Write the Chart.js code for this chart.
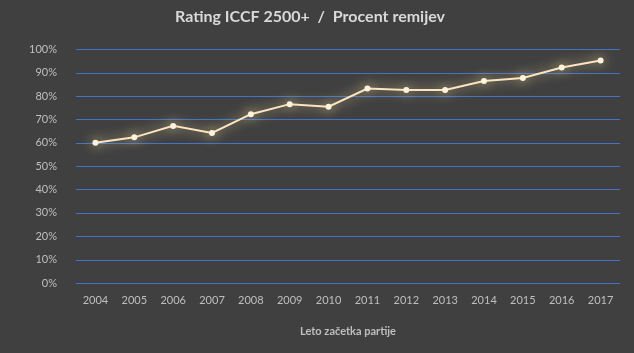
<!DOCTYPE html>
<html>
<head>
<meta charset="utf-8">
<script src="https://cdn.jsdelivr.net/npm/chart.js@4"></script>
<style>
  html, body { margin: 0; padding: 0; background: #404040; }
  #wrap { width: 634px; height: 353px; }
</style>
</head>
<body>
<div id="wrap"><canvas id="chartRemiji"></canvas></div>
<script>
// Podatki grafa
const leta = ['2004', '2005', '2006', '2007', '2008', '2009', '2010', '2011', '2012', '2013', '2014', '2015', '2016', '2017'];
const procentRemijev = [0.600, 0.623, 0.672, 0.642, 0.722, 0.765, 0.754, 0.832, 0.826, 0.826, 0.864, 0.877, 0.922, 0.952];
const yTicks = [0, 0.1, 0.2, 0.3, 0.4, 0.5, 0.6, 0.7, 0.8, 0.9, 1.0];

// Ostre modre mrežne črte (poravnane na piksel)
const gridPlugin = {
    id: 'ostraMreza',
    beforeDatasetsDraw(chart) {
        const { ctx, chartArea, scales } = chart;
        ctx.save();
        ctx.strokeStyle = '#4472C4';
        ctx.lineWidth = 1;
        scales.y.ticks.forEach(t => {
            const y = Math.round(scales.y.getPixelForValue(t.value)) + 0.5;
            ctx.beginPath();
            ctx.moveTo(chartArea.left, y);
            ctx.lineTo(chartArea.right, y);
            ctx.stroke();
        });
        ctx.restore();
    }
};

// Sij okoli črte (kot v Excelu)
const glowPlugin = {
    id: 'glow',
    beforeDatasetDraw(chart) {
        const ctx = chart.ctx;
        ctx.save();
        ctx.shadowColor = 'rgba(255, 232, 160, 0.85)';
        ctx.shadowBlur = 12;
    },
    afterDatasetDraw(chart) {
        chart.ctx.restore();
    }
};

const barvaBesedila = '#BFBFBF';

new Chart(document.getElementById('chartRemiji'), {
    type: 'line',
    data: {
        labels: leta,
        datasets: [{
            label: 'Procent remijev',
            data: procentRemijev,
            borderColor: '#FCE4C0',
            borderWidth: 2,
            pointRadius: 3,
            pointBackgroundColor: '#FFF3DE',
            pointBorderColor: '#FFF3DE',
            pointBorderWidth: 0,
            tension: 0
        }]
    },
    options: {
        responsive: true,
        maintainAspectRatio: false,
        animation: false,
        layout: { padding: { left: 0, right: 14, top: 0, bottom: 0 } },
        plugins: {
            legend: { display: false },
            tooltip: { enabled: false },
            title: {
                display: true,
                text: 'Rating ICCF 2500+  /  Procent remijev',
                color: '#D9D9D9',
                font: { family: 'Lato', size: 16, weight: 'bold' },
                padding: { top: 7, bottom: 23 }
            }
        },
        scales: {
            x: {
                offset: true,
                grid: { display: false },
                border: { display: false },
                ticks: {
                    color: barvaBesedila,
                    font: { family: 'Lato', size: 11 },
                    padding: 3,
                    maxRotation: 0
                },
                title: {
                    display: true,
                    text: 'Leto začetka partije',
                    color: barvaBesedila,
                    font: { family: 'Lato', size: 11, weight: 'bold' },
                    padding: { top: 20, bottom: 15 }
                },
                afterFit(scale) { scale.height = 70; }
            },
            y: {
                min: 0,
                max: 1,
                afterBuildTicks(scale) {
                    scale.ticks = yTicks.map(v => ({ value: v }));
                },
                grid: { display: false },
                border: { display: false },
                ticks: {
                    color: barvaBesedila,
                    font: { family: 'Lato', size: 11 },
                    padding: 11,
                    callback: (v) => Math.round(v * 100) + '%'
                },
                afterFit(scale) { scale.width = 76; }
            }
        }
    },
    plugins: [gridPlugin, glowPlugin]
});
</script>
</body>
</html>
